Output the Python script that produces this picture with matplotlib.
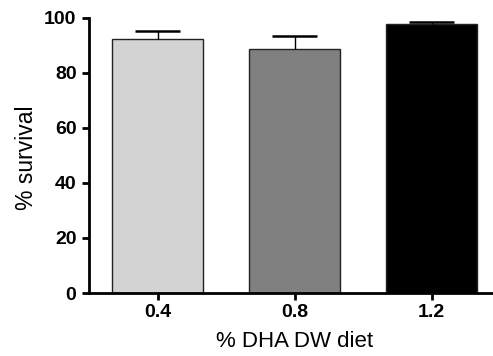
import matplotlib
matplotlib.use("Agg")
import matplotlib.pyplot as plt

categories = ["0.4", "0.8", "1.2"]
survival = [92.4, 88.7, 97.7]
sem = [3.0, 4.6, 0.9]
colors = ["#d3d3d3", "#808080", "#000000"]

plt.rcParams['font.family'] = ['Liberation Sans', 'DejaVu Sans']

W, H = 493, 356
fig = plt.figure(figsize=(W / 100, H / 100), dpi=100)
ax = fig.add_axes([89 / W, 1 - 293 / H, (500 - 89) / W, (293 - 18) / H])
ax.set_clip_on(False)

x = list(range(len(categories)))
ax.bar(x, survival, width=0.66, color=colors, edgecolor="#222222", linewidth=1.0, zorder=2)
tops = [s + e for s, e in zip(survival, sem)]
ax.vlines(x, survival, tops, color="black", linewidth=1.0, zorder=3)
ax.hlines(tops, [c - 0.167 for c in x], [c + 0.167 for c in x], color="black",
          linewidth=1.8, zorder=3)

ax.set_xlim(-0.5, 2.5)
ax.set_ylim(0, 100)
ax.set_yticks([0, 20, 40, 60, 80, 100])
ax.set_xticks(x)
ax.set_xticklabels(categories)

for s in ["top", "right"]:
    ax.spines[s].set_visible(False)
for s in ["left", "bottom"]:
    ax.spines[s].set_linewidth(2.0)
ax.tick_params(axis="both", width=2.0, length=5, labelsize=14)
ax.tick_params(axis="y", pad=4)
ax.tick_params(axis="x", pad=3)
for lbl in ax.get_xticklabels() + ax.get_yticklabels():
    lbl.set_fontweight("bold")

ax.set_xlabel("% DHA DW diet", fontsize=16)
ax.set_ylabel("% survival", fontsize=16.5)
ax.xaxis.set_label_coords(0.5, -0.138)
ax.yaxis.set_label_coords(-0.124, 0.49)

fig.savefig("out.png", dpi=100)
